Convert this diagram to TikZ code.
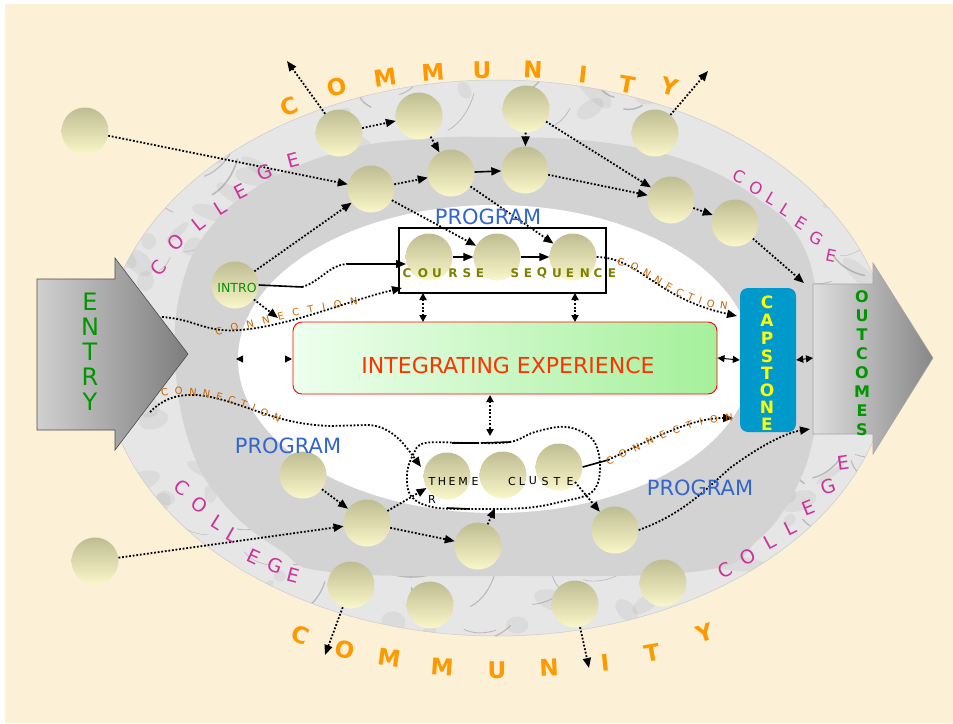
\documentclass[tikz,border=0pt]{standalone}
\usepackage{fontspec}
\setmainfont{DejaVu Sans}
\usetikzlibrary{arrows.meta,decorations.text}
\definecolor{cream}{RGB}{252,240,215}
\definecolor{marble}{RGB}{230,230,230}
\definecolor{band}{RGB}{211,211,211}
\definecolor{orng}{RGB}{255,153,0}
\definecolor{mag}{RGB}{204,51,153}
\definecolor{progblue}{RGB}{51,102,204}
\definecolor{grn}{RGB}{0,150,0}
\definecolor{capblue}{RGB}{0,153,204}
\definecolor{capyel}{RGB}{255,255,0}
\definecolor{iered}{RGB}{255,51,0}
\definecolor{conn}{RGB}{204,102,0}
\definecolor{olivetxt}{RGB}{128,128,0}
\definecolor{circtop}{RGB}{190,188,145}
\definecolor{circbot}{RGB}{250,248,202}
\definecolor{iegl}{RGB}{238,255,238}
\definecolor{iegr}{RGB}{165,240,155}
\tikzset{
  ball/.style={circle, minimum size=47pt, inner sep=0pt, top color=circtop, bottom color=circbot},
  dotln/.style={line width=1.8pt, dash pattern=on 1.8pt off 1.8pt},
  arrtip/.style={-{Triangle[length=10pt,width=8pt]}},
  dbltip/.style={{Triangle[length=7pt,width=7pt]}-{Triangle[length=7pt,width=7pt]}},
  commtxt/.style={text=orng, font=\fontsize{23}{23}\selectfont\bfseries, inner sep=0pt},
  colltxt/.style={text=mag, font=\fontsize{19}{19}\selectfont, inner sep=0pt},
  progtxt/.style={text=progblue, font=\fontsize{21}{21}\selectfont, inner sep=0pt},
  entrytxt/.style={text=grn, font=\fontsize{24}{24}\selectfont, inner sep=0pt},
  outtxt/.style={text=grn, font=\fontsize{16}{16}\selectfont\bfseries, inner sep=0pt},
  captxt/.style={text=capyel, font=\fontsize{17}{17}\selectfont\bfseries, inner sep=0pt},
  cstxt/.style={text=olivetxt, font=\fontsize{12}{12}\selectfont\bfseries, inner sep=0pt},
  thtxt/.style={text=black, font=\fontsize{11}{11}\selectfont, inner sep=0pt},
  conntext/.style={decorate, decoration={text along path, text align={fit to path}, text color=conn,
     text={|\fontsize{10}{10}\selectfont|#1}}},
}
\begin{document}
\begin{tikzpicture}[x=1pt,y=-1pt]
\useasboundingbox (0,0) rectangle (953,723);
% background
\fill[white] (0,0) rectangle (953,723);
\fill[cream] (5,4) rectangle (953,723);
% outer marble ring
\fill[marble] (497,358) ellipse [x radius=394pt, y radius=278pt];
\begin{scope}
  \clip (497,358) ellipse [x radius=394pt, y radius=278pt];
  \pgfmathsetseed{11}
  \foreach \k in {1,...,160}{
    \pgfmathsetmacro{\xa}{100+rnd*800}
    \pgfmathsetmacro{\ya}{80+rnd*560}
    \pgfmathsetmacro{\rx}{6+rnd*22}
    \pgfmathsetmacro{\ry}{3+rnd*8}
    \pgfmathsetmacro{\ang}{-50+rnd*100}
    \fill[gray, opacity=0.10, rotate around={\ang:(\xa,\ya)}] (\xa,\ya) ellipse [x radius=\rx pt, y radius=\ry pt];
  }
  \foreach \k in {1,...,160}{
    \pgfmathsetmacro{\xa}{100+rnd*800}
    \pgfmathsetmacro{\ya}{80+rnd*560}
    \pgfmathsetmacro{\ang}{-60+rnd*120}
    \pgfmathsetmacro{\lw}{0.3+rnd*1.4}
    \pgfmathsetmacro{\len}{15+rnd*35}
    \draw[gray!80!black, line width=\lw pt, opacity=0.35, line cap=round]
      (\xa,\ya) .. controls +(\ang+25:\len/3) and +(\ang+160:\len/3) .. ++(\ang:\len);
  }
\end{scope}
\draw[gray!40, line width=0.5pt] (497,358) ellipse [x radius=394pt, y radius=278pt];
% middle grey band
\fill[band] plot[smooth cycle, tension=0.7] coordinates {(495,137) (600,142) (690,162) (760,200) (800,240) (818,300) (822,360) (815,430) (795,490) (758,540) (700,571) (500,576) (330,572) (280,550) (225,505) (190,445) (175,360) (182,285) (210,228) (265,182) (345,150) (420,139)};
% inner white
\fill[white] (495,359) ellipse [x radius=257pt, y radius=154pt];

% ENTRY arrow
\draw[gray!60!black, line width=0.6pt, left color={rgb,255:red,208;green,208;blue,208}, right color={rgb,255:red,125;green,125;blue,125}]
  (37,279) -- (115,279) -- (115,258) -- (188,354) -- (115,450) -- (115,430) -- (37,430) -- cycle;
% OUTCOMES arrow
\draw[gray!70, line width=0.6pt, left color={rgb,255:red,222;green,222;blue,222}, right color={rgb,255:red,135;green,135;blue,135}]
  (813,284) -- (873,284) -- (873,263) -- (933,358) -- (873,454) -- (873,434) -- (813,434) -- cycle;
\coordinate (entA) at (162,317);
\coordinate (entB) at (150,412);
\coordinate (outTop) at (804,283);
\coordinate (outBot) at (810,429);
\coordinate (outL) at (813,358);

% boxes
\node[draw=red, line width=0.9pt, rounded corners=9pt, minimum width=424pt, minimum height=72pt,
      left color=iegl, right color=iegr] (ie) at (505,358) {};
\node[text=iered, font=\fontsize{22}{22}\selectfont, inner sep=0pt] (ietext) at (508,365) {INTEGRATING EXPERIENCE};
\node[fill=capblue, rounded corners=8pt, minimum width=56pt, minimum height=144pt] (cap) at (768,360) {};

% balls
\node[ball] (oL1) at (85,131) {};
\node[ball] (oL2) at (95,561) {};
\node[ball] (t1) at (339,133) {};
\node[ball] (t2) at (419,116) {};
\node[ball] (t3) at (526,109) {};
\node[ball] (t4) at (655,133) {};
\node[ball] (m1) at (371,189) {};
\node[ball] (m2) at (451,173) {};
\node[ball] (m3) at (525,170) {};
\node[ball] (m4) at (671,200) {};
\node[ball] (m5) at (735,223) {};
\node[ball] (intro) at (235,285) {};
\node[ball] (cs1) at (429,257) {};
\node[ball] (cs2) at (497,257) {};
\node[ball] (cs3) at (573,257) {};
\node[ball] (th1) at (447,476) {};
\node[ball] (th2) at (503,475) {};
\node[ball] (th3) at (559,467) {};
\node[ball] (b1) at (303,475) {};
\node[ball] (b2) at (367,523) {};
\node[ball] (b3) at (478,546) {};
\node[ball] (b4) at (615,530) {};
\node[ball] (bb1) at (351,585) {};
\node[ball] (bb2) at (430,605) {};
\node[ball] (bb3) at (575,604) {};
\node[ball] (bb4) at (663,583) {};
\node[text=grn, font=\fontsize{12.5}{12.5}\selectfont, inner sep=0pt] (introtxt) at (237,288) {INTRO};

% course box
\node[draw, line width=1.5pt, minimum width=207pt, minimum height=65pt, inner sep=0pt] (csbox) at (502.5,260.5) {};

% free ends
\coordinate (upL) at (287,61);
\coordinate (upR) at (708,71);
\coordinate (dnL) at (325,655);
\coordinate (dnR) at (589,668);
\coordinate (introTip) at (278,318);
\coordinate (csIn1) at (406,264);
\coordinate (csIn2) at (402,288);
\coordinate (capIn1) at (737,316);
\coordinate (capIn2) at (733,418);
\coordinate (thIn) at (421,467);
\coordinate (thBot) at (495,508);
\coordinate (thOut) at (575,482);
\coordinate (cb1) at (423,293);
\coordinate (ie1) at (423,322);
\coordinate (cb2) at (575,293);
\coordinate (ie2) at (575,322);
\coordinate (ie3) at (490,395);
\coordinate (th0) at (490,436);
\coordinate (lh1) at (236,359);
\coordinate (lh2) at (292,359);

% top connectors
\draw[dotln, arrtip] (oL1) -- (m1);
\draw[dotln, arrtip] (t1) -- (upL);
\draw[dotln, arrtip] (t1) -- (t2);
\draw[dotln, arrtip] (t2) -- (m2);
\draw[dotln, arrtip] (m1) -- (m2);
\draw[dotln, arrtip] (intro) -- (m1);
\draw[dotln, arrtip] (m1) -- (cs2);
\draw[line width=1.6pt, arrtip] (m2) -- (m3);
\draw[dotln, arrtip] (m2) -- (cs3);
\draw[dotln, arrtip] (t3) -- (m3);
\draw[dotln, arrtip] (t3) -- (m4);
\draw[dotln, arrtip] (m3) -- (m4);
\draw[dotln, arrtip] (m4) -- (m5);
\draw[dotln, arrtip] (t4) -- (upR);
\draw[dotln, arrtip] (m5) -- (outTop);
\draw[line width=1.2pt, arrtip] (cs1) -- (cs2);
\draw[line width=1.2pt, arrtip] (cs2) -- (cs3);
% intro to course sequence
\draw[line width=1.6pt] (intro.east) -- (302,287);
\draw[dotln] (302,287) .. controls (320,282) and (330,264) .. (348,264);
\draw[line width=1.6pt, arrtip] (348,264) -- (csIn1);
\draw[dotln, arrtip] (intro) -- (introTip);
% connection entry -> course box
\draw[dotln, arrtip] (entA) .. controls (195,319) and (205,333) .. (240,330) .. controls (290,326) and (350,300) .. (csIn2);
\path[conntext={C O N N E C T I O N}] (216,335) .. controls (262,326) and (300,312) .. (358,305);
% double arrows
\draw[dotln, dbltip] (cb1) -- (ie1);
\draw[dotln, dbltip] (cb2) -- (ie2);
\draw[dotln, dbltip] (ie3) -- (th0);
\draw[white, line width=1pt, {Triangle[length=7pt,width=7pt,color=black]}-{Triangle[length=7pt,width=7pt,color=black]}] (lh1) -- (lh2);
\draw[line width=1pt, dbltip] (ie.east) -- (cap.west);
\draw[line width=1pt, dbltip] (cap.east) -- (outL);
% connection course -> capstone
\draw[dotln, arrtip] (cs3.east) .. controls (640,258) and (655,298) .. (capIn1);
\path[conntext={C O N N E C T I O N}] (617,266) .. controls (645,266) and (665,302) .. (727,310);
% theme cluster blob
\draw[dotln] plot[smooth cycle, tension=0.6] coordinates {(425,443) (470,443) (510,442) (535,432) (567,427) (593,440) (600,468) (592,492) (560,502) (525,508) (470,509) (432,507) (411,496) (407,474) (413,455)};
\draw[line width=1.6pt] (452,443) -- (477,443);
\draw[line width=1.6pt] (481,443) -- (510,442);
\draw[line width=1.6pt] (447,508) -- (470,509);
% connection theme -> capstone
\draw[line width=1.6pt] (th3.east) -- (608,460);
\draw[dotln, arrtip] (608,460) .. controls (650,440) and (690,418) .. (capIn2);
\path[conntext={C O N N E C T I O N}] (608,465) .. controls (650,446) and (682,424) .. (733,421);
% connection entry -> theme
\draw[dotln, arrtip] (entB) .. controls (162,400) and (175,394) .. (197,395) .. controls (240,399) and (270,424) .. (330,426) -- (368,425) .. controls (392,426) and (405,445) .. (thIn);
\path[conntext={C O N N E C T I O N}] (162,397) .. controls (190,390) and (230,400) .. (279,423);
% bottom connectors
\draw[dotln, arrtip] (b2) -- (th1);
\draw[dotln, arrtip] (b3) -- (thBot);
\draw[dotln, arrtip] (thOut) -- (b4);
\draw[dotln, arrtip] (b4.east) .. controls (680,515) and (700,495) .. (730,468) .. controls (760,446) and (785,433) .. (outBot);
\draw[dotln, arrtip] (b1) -- (b2);
\draw[dotln, arrtip] (oL2) -- (b2);
\draw[dotln, arrtip] (b2) -- (b3);
\draw[dotln, arrtip] (bb1) -- (dnL);
\draw[dotln, arrtip] (bb3) -- (dnR);

% course sequence text
\foreach \ch/\xx [count=\i] in {C/407,O/423,U/437,R/453,S/467,E/480,S/515,E/528,Q/542,U/557,E/570,N/585,C/598,E/612}
  \node[cstxt] (cst\i) at (\xx,273) {\ch};
% theme cluster text
\foreach \ch/\xx [count=\i] in {T/432,H/442,E/452,M/463,E/475,C/512,L/522,U/533,S/545,T/557,E/570}
  \node[thtxt] (tht\i) at (\xx,481) {\ch};
\node[thtxt] (thR) at (432,499) {R};

% PROGRAM labels
\node[progtxt] (prog1) at (488,217) {PROGRAM};
\node[progtxt] (prog2) at (288,446) {PROGRAM};
\node[progtxt] (prog3) at (700,488) {PROGRAM};

% ENTRY / OUTCOMES / CAPSTONE
\foreach \ch/\yy [count=\i] in {E/302,N/327,T/352,R/377,Y/402}
  \node[entrytxt] (ent\i) at (90,\yy) {\ch};
\foreach \ch/\yy [count=\i] in {O/297,U/316,T/335,C/354,O/373,M/392,E/411,S/430}
  \node[outtxt] (out\i) at (862,\yy) {\ch};
\foreach \ch/\yy [count=\i] in {C/302,A/320,P/338,S/356,T/373,O/390,N/407,E/424}
  \node[captxt] (capl\i) at (767,\yy) {\ch};

% COMMUNITY
\foreach \ch/\xx/\yy/\rr [count=\i] in {C/289/107/22,O/337/87/14,M/385/78/8,M/433/72/4,U/482/70/0,N/533/70/-3,I/583/75/-6,T/627/85/-10,Y/670/87/-15}
  \node[commtxt, rotate=\rr] (cmt\i) at (\xx,\yy) {\ch};
\foreach \ch/\xx/\yy/\rr [count=\i] in {C/300/635/-22,O/345/650/-14,M/389/658/-8,M/442/667/-4,U/497/670/0,N/549/668/3,I/605/663/6,T/652/653/10,Y/705/633/18}
  \node[commtxt, rotate=\rr] (cmb\i) at (\xx,\yy) {\ch};

% COLLEGE
\foreach \ch/\xx/\yy/\rr [count=\i] in {C/158/268/50,O/176/242/45,L/198/224/38,L/220/208/32,E/241/192/27,G/265/172/22,E/293/160/15}
  \node[colltxt, rotate=\rr] (clA\i) at (\xx,\yy) {\ch};
\foreach \ch/\xx/\yy/\rr [count=\i] in {C/739/176/-25,O/756/188/-28,L/771/199/-30,L/786/210/-32,E/801/223/-32,G/816/238/-28,E/831/256/-12}
  \node[colltxt, font=\fontsize{16.5}{16.5}\selectfont, rotate=\rr] (clB\i) at (\xx,\yy) {\ch};
\foreach \ch/\xx/\yy/\rr [count=\i] in {C/182/488/-35,O/200/505/-34,L/218/522/-32,L/233/535/-30,E/254/557/-25,G/275/566/-20,E/293/575/-15}
  \node[colltxt, rotate=\rr] (clC\i) at (\xx,\yy) {\ch};
\foreach \ch/\xx/\yy/\rr [count=\i] in {C/725/570/28,O/748/557/28,L/770/542/28,L/790/528/26,E/808/508/22,G/828/487/18,E/843/463/8}
  \node[colltxt, rotate=\rr] (clD\i) at (\xx,\yy) {\ch};
\end{tikzpicture}
\end{document}
